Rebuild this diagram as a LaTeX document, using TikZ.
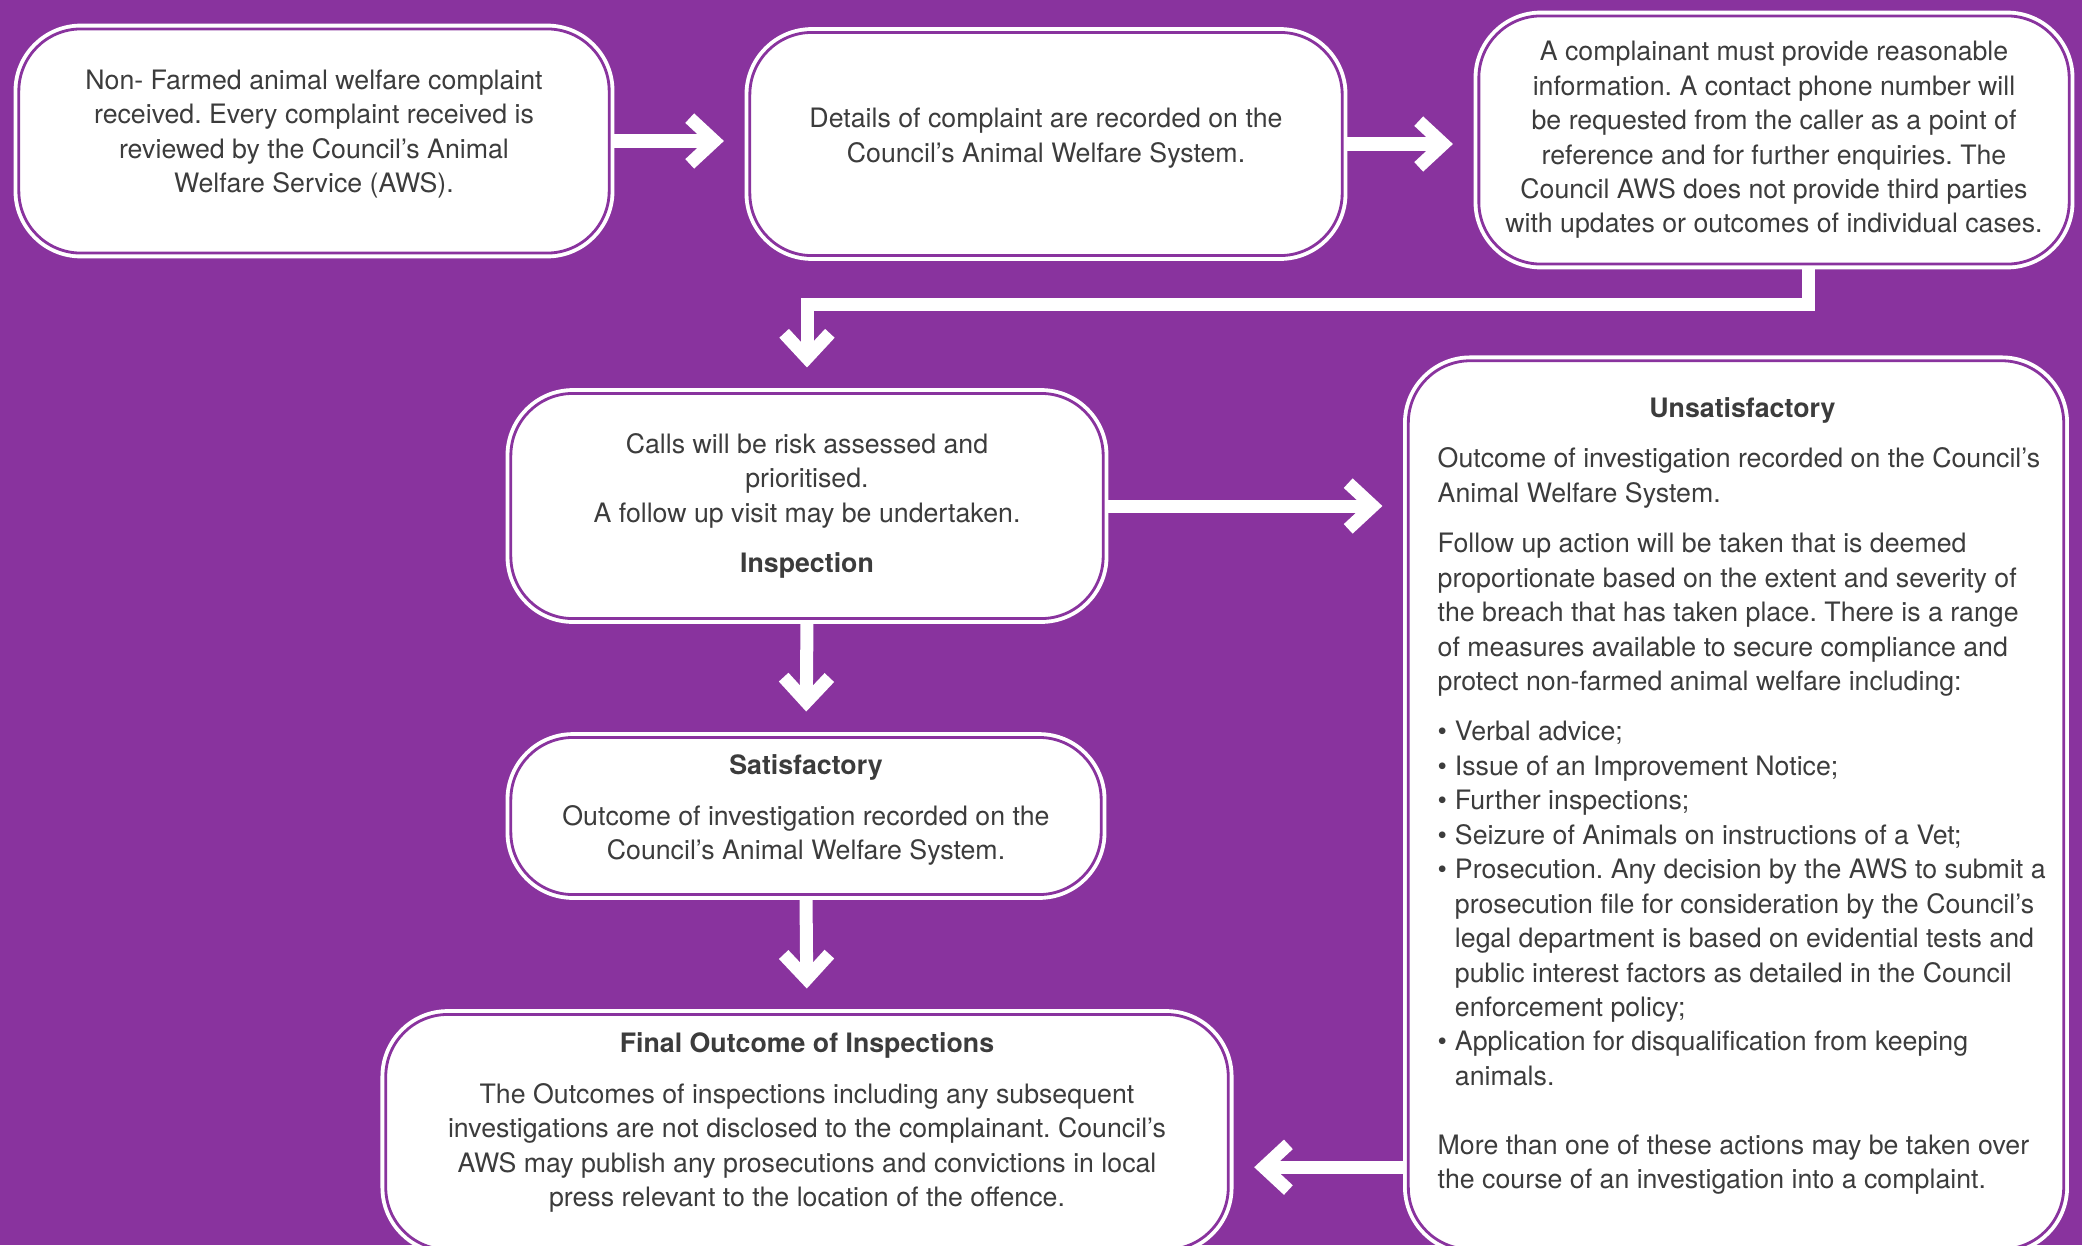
\documentclass[tikz,border=0pt]{standalone}
\usepackage{fontspec}
\setmainfont{TeX Gyre Heros}
\usepackage{xcolor}
\usetikzlibrary{arrows.meta}
\definecolor{awspurple}{HTML}{89339E}
\definecolor{awstext}{HTML}{3C3C3C}
\newcommand{\botpad}[1]{\rule[-#1]{0pt}{0pt}}
\frenchspacing

\begin{document}
\begin{tikzpicture}[
        % coordenadas en pixeles, y hacia abajo
        x=0.01cm, y=-0.01cm,
        box/.style={rectangle, draw=white, double=awspurple, double distance=0.8pt, line width=1.1pt, fill=white, rounded corners=0.62cm, text=awstext, align=center, inner sep=0pt, font=\fontsize{7.6}{9.8}\selectfont},
        flow/.style={draw=white, line width=3.7pt, -{Straight Barb[length=7pt, width=13pt, sharp]}, shorten >=0.24cm}
    ]
        \fill[awspurple] (0,0) rectangle (2082,1245);
        \clip (0,0) rectangle (2082,1245);

        \node [box, minimum width=5.9cm, minimum height=2.24cm] (received) at (314,141) {Non- Farmed animal welfare complaint\\received. Every complaint received is\\reviewed by the Council’s Animal\\Welfare Service (AWS).\botpad{5.5pt}};
        \node [box, minimum width=5.92cm, minimum height=2.23cm] (recorded) at (1046,144) {Details of complaint are recorded on the\\Council’s Animal Welfare System.\botpad{5pt}};
        \node [box, minimum width=5.9cm, minimum height=2.48cm] (info) at (1774,140) {A complainant must provide reasonable\\information. A contact phone number will\\be requested from the caller as a point of\\reference and for further enquiries. The\\Council AWS does not provide third parties\\with updates or outcomes of individual cases.};
        \node [box, minimum width=5.92cm, minimum height=2.25cm] (inspection) at (807,506) {Calls will be risk assessed and\\prioritised.\\A follow up visit may be undertaken.\\[4.5pt]\textbf{Inspection}};
        \node [box, minimum width=5.9cm, minimum height=1.57cm] (satisf) at (806,816) {\textbf{Satisfactory}\\[4.5pt]Outcome of investigation recorded on the\\Council’s Animal Welfare System.\botpad{5pt}};
        \node [box, minimum width=8.42cm, minimum height=2.35cm] (final) at (807,1132) {\textbf{Final Outcome of Inspections}\\[4.5pt]The Outcomes of inspections including any subsequent\\investigations are not disclosed to the complainant. Council’s\\AWS may publish any prosecutions and convictions in local\\press relevant to the location of the offence.\botpad{7pt}};
        \node [box, minimum width=6.55cm, minimum height=8.88cm] (unsatisf) at (1736,805) {};
        \node [text=awstext, align=left, inner sep=0pt, anchor=north west, font=\fontsize{7.6}{9.8}\selectfont] (unsatisftext) at (1437,397) {\makebox[6.09cm]{\textbf{Unsatisfactory}}\\[4.5pt]
            Outcome of investigation recorded on the Council’s\\Animal Welfare System.\\[4.5pt]
            Follow up action will be taken that is deemed\\proportionate based on the extent and severity of\\the breach that has taken place. There is a range\\of measures available to secure compliance and\\protect non-farmed animal welfare including:\\[4.5pt]
            \makebox[4.9pt][l]{\textbullet}Verbal advice;\\
            \makebox[4.9pt][l]{\textbullet}Issue of an Improvement Notice;\\
            \makebox[4.9pt][l]{\textbullet}Further inspections;\\
            \makebox[4.9pt][l]{\textbullet}Seizure of Animals on instructions of a Vet;\\
            \makebox[4.9pt][l]{\textbullet}Prosecution. Any decision by the AWS to submit a\\
            \hspace*{4.9pt}prosecution file for consideration by the Council’s\\
            \hspace*{4.9pt}legal department is based on evidential tests and\\
            \hspace*{4.9pt}public interest factors as detailed in the Council\\
            \hspace*{4.9pt}enforcement policy;\\
            \makebox[4.9pt][l]{\textbullet}Application for disqualification from keeping\\
            \hspace*{4.9pt}animals.\\[9.8pt]
            More than one of these actions may be taken over\\the course of an investigation into a complaint.};

        \draw[flow] (received.east) -- (received.east -| recorded.west);
        \draw[flow] (recorded.east) -- (recorded.east -| info.west);
        \draw[flow] ([xshift=0.34cm]info.south) -- ++(0,38) -| (inspection.north);
        \draw[flow] (inspection.east) -- (inspection.east -| unsatisf.west);
        \draw[flow] (inspection.south) -- (satisf.north);
        \draw[flow] (satisf.south) -- (final.north);
        \draw[flow] ([yshift=-3.62cm]unsatisf.west) -- ([yshift=-3.62cm]unsatisf.west -| final.east);
    \end{tikzpicture}
\end{document}
